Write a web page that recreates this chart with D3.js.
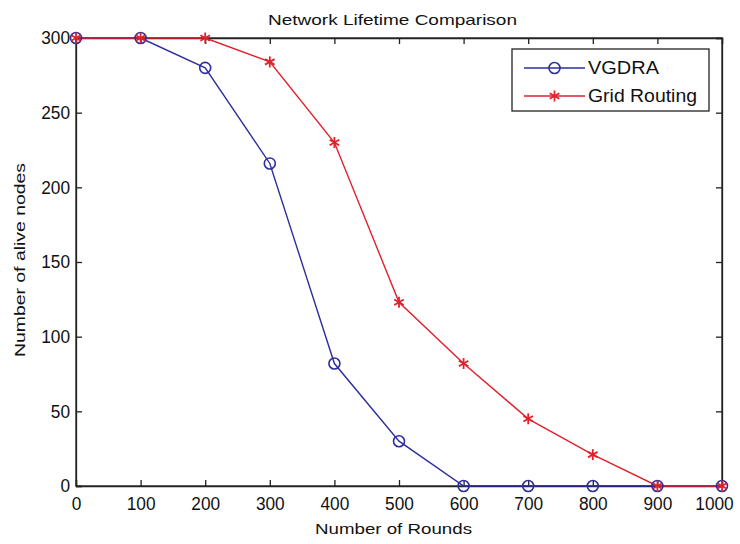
<!DOCTYPE html>
<html><head><meta charset="utf-8">
<script src="https://cdn.jsdelivr.net/npm/d3@7"></script>
<style>body{margin:0;background:#fff}svg{display:block}</style>
</head><body>
<svg id="c" width="740" height="544"></svg>
<script>
const rounds = [0,100,200,300,400,500,600,700,800,900,1000];
const vgdra = [300,300,280,216,82,30,0,0,0,0,0];
const gridRouting = [300,300,300,284,230,123,82,45,21,0,0];
const xTicks = [0,100,200,300,400,500,600,700,800,900,1000];
const yTicks = [0,50,100,150,200,250,300];
const seriesNames = ["VGDRA","Grid Routing"];

const svg = d3.select("#c");
const L=76, R=722, T=38, B=486;
const x = d3.scaleLinear().domain([0,1000]).range([L,R]);
const y = d3.scaleLinear().domain([0,300]).range([B,T]);
const font = "'Liberation Sans', Arial, sans-serif";

svg.append("rect").attr("x",L).attr("y",T).attr("width",R-L).attr("height",B-T)
  .attr("fill","#fff").attr("stroke","#222").attr("stroke-width",1.3);

const gx = svg.append("g").attr("transform",`translate(0,${B})`)
  .call(d3.axisBottom(x).tickValues(xTicks).tickSize(-6).tickPadding(11).tickFormat(d3.format("d")));
const gy = svg.append("g").attr("transform",`translate(${L},0)`)
  .call(d3.axisLeft(y).tickValues(yTicks).tickSize(-6).tickPadding(6).tickFormat(d3.format("d")));
const gxt = svg.append("g").attr("transform",`translate(0,${T})`)
  .call(d3.axisTop(x).tickValues(xTicks).tickSize(-6).tickFormat(""));
const gyr = svg.append("g").attr("transform",`translate(${R},0)`)
  .call(d3.axisRight(y).tickValues(yTicks).tickSize(-6).tickFormat(""));
[gx,gy,gxt,gyr].forEach(g=>{
  g.select(".domain").attr("stroke","#222").attr("stroke-width",1.3);
  g.selectAll(".tick line").attr("stroke","#222").attr("stroke-width",1.3);
  g.selectAll("text").attr("font-family",font).attr("font-size",18).attr("fill","#111")
    .attr("lengthAdjust","spacingAndGlyphs")
    .attr("textLength",function(){ return this.textContent.length*9.6; });
});
// keep the last x label inside the picture, as the reference does
gx.selectAll(".tick text").filter(d=>d===1000).attr("x",-8);

const line = d3.line().x((d,i)=>x(rounds[i])).y(d=>y(d));
const blue="#2e2e9c", red="#e0202c";

svg.append("path").datum(vgdra).attr("d",line).attr("fill","none").attr("stroke",blue).attr("stroke-width",1.4);
svg.append("path").datum(gridRouting).attr("d",line).attr("fill","none").attr("stroke",red).attr("stroke-width",1.4);

svg.selectAll(".vm").data(vgdra).enter().append("circle")
  .attr("cx",(d,i)=>x(rounds[i])).attr("cy",d=>y(d)).attr("r",5.5)
  .attr("fill","none").attr("stroke",blue).attr("stroke-width",1.6);

function star(g, cx, cy, s){
  [0,60,120].forEach(a=>{
    const r=a*Math.PI/180;
    g.append("line").attr("x1",cx-s*Math.sin(r)).attr("y1",cy-s*Math.cos(r))
      .attr("x2",cx+s*Math.sin(r)).attr("y2",cy+s*Math.cos(r))
      .attr("stroke",red).attr("stroke-width",1.8);
  });
}
const sg = svg.append("g");
gridRouting.forEach((d,i)=>star(sg, x(rounds[i]), y(d), 5.5));

// legend
const lg = svg.append("g");
lg.append("rect").attr("x",512).attr("y",49).attr("width",197).attr("height",62)
  .attr("fill","#fff").attr("stroke","#222").attr("stroke-width",1.3);
lg.append("line").attr("x1",524).attr("x2",585).attr("y1",68).attr("y2",68).attr("stroke",blue).attr("stroke-width",1.4);
lg.append("circle").attr("cx",554.5).attr("cy",68).attr("r",5.5).attr("fill","none").attr("stroke",blue).attr("stroke-width",1.6);
lg.append("line").attr("x1",524).attr("x2",585).attr("y1",96).attr("y2",96).attr("stroke",red).attr("stroke-width",1.4);
star(lg,554.5,96,5.5);
const legendLens = [71,109];
lg.selectAll(".lt").data(seriesNames).enter().append("text")
  .attr("x",588).attr("y",(d,i)=>68+i*28).attr("dy","0.36em")
  .attr("textLength",(d,i)=>legendLens[i]).attr("lengthAdjust","spacingAndGlyphs")
  .attr("font-family",font).attr("font-size",18).attr("fill","#111").text(d=>d);

svg.append("text").attr("x",268).attr("y",25)
  .attr("textLength",249).attr("lengthAdjust","spacingAndGlyphs")
  .attr("font-family",font).attr("font-size",15).attr("fill","#111").text("Network Lifetime Comparison");
svg.append("text").attr("x",315).attr("y",534)
  .attr("textLength",157).attr("lengthAdjust","spacingAndGlyphs")
  .attr("font-family",font).attr("font-size",15).attr("fill","#111").text("Number of Rounds");
svg.append("text").attr("transform","translate(25,357) rotate(-90)")
  .attr("textLength",194).attr("lengthAdjust","spacingAndGlyphs")
  .attr("font-family",font).attr("font-size",15).attr("fill","#111").text("Number of alive nodes");
</script>
</body></html>
